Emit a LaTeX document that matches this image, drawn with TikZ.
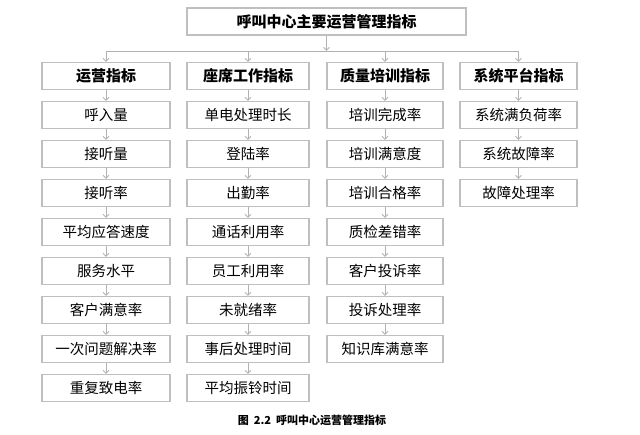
\documentclass[tikz,border=0pt]{standalone}
\usepackage{fontspec}
\setmainfont{Noto Sans CJK SC}
\usetikzlibrary{arrows.meta,positioning}

\begin{document}
\begin{tikzpicture}[
    x=1pt, y=-1pt,
    box/.style={draw=black!25, line width=1.2pt, minimum height=27pt, inner sep=0, font=\fontsize{14.5}{16}\selectfont},
    headbox/.style={box, font=\fontsize{15}{16}\selectfont\bfseries},
    link/.style={draw=black!30, line width=0.9pt, -{Straight Barb[length=3pt,width=6pt]}}]
\useasboundingbox (0,0) rectangle (640,435);

\node[headbox, minimum width=279pt] (top) at (326.5,21.5) {呼叫中心主要运营管理指标};
\coordinate (bus) at (326.5,51);

% columns: center x, width, header, items
\foreach \c/\cx/\w/\head/\items in {
    a/106/128/运营指标/{呼入量,接听量,接听率,平均应答速度,服务水平,客户满意率,一次问题解决率,重复致电率},
    b/248/122/座席工作指标/{单电处理时长,登陆率,出勤率,通话利用率,员工利用率,未就绪率,事后处理时间,平均振铃时间},
    c/385/116/质量培训指标/{培训完成率,培训满意度,培训合格率,质检差错率,客户投诉率,投诉处理率,知识库满意率},
    d/518.5/117/系统平台指标/{系统满负荷率,系统故障率,故障处理率}} {
  \node[headbox, minimum width=\w pt] (\c0) at (\cx,76) {\head};
  \draw[link] (bus -| \c0.north) -- (\c0.north);
  \foreach \t [count=\i, remember=\i as \j (initially 0)] in \items {
    \node[box, minimum width=\w pt] (\c\i) at (\cx,76+39*\i) {\t};
    \draw[link] (\c\j) -- (\c\i);
  }
}
\draw[draw=black!30, line width=0.9pt] (bus -| a0.north) -- (bus -| d0.north);
\draw[link] (top) -- (bus);

\node[font=\fontsize{11}{12}\selectfont\bfseries] (caption) at (312,420) {图\ \ 2.2\ \ 呼叫中心运营管理指标};
\end{tikzpicture}
\end{document}
